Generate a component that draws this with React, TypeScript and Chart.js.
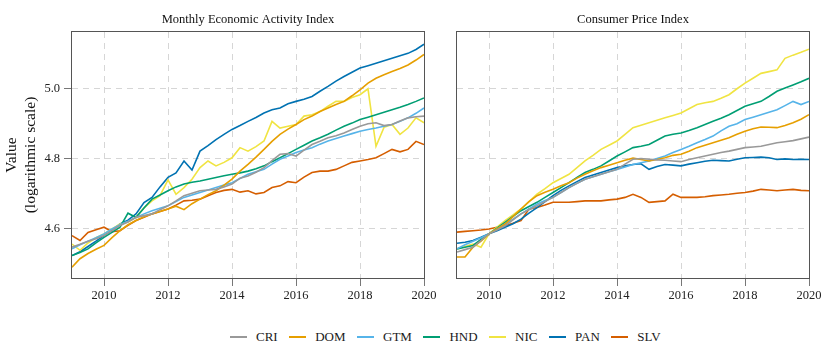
import React, { useEffect, useRef } from "react";
import { Chart, registerables } from "chart.js";
Chart.register(...registerables);

const FONT = "'Liberation Serif', 'Times New Roman', serif";

const dates = [
  2009, 2009.25, 2009.5, 2009.75, 2010, 2010.25, 2010.5, 2010.75,
  2011, 2011.25, 2011.5, 2011.75, 2012, 2012.25, 2012.5, 2012.75,
  2013, 2013.25, 2013.5, 2013.75, 2014, 2014.25, 2014.5, 2014.75,
  2015, 2015.25, 2015.5, 2015.75, 2016, 2016.25, 2016.5, 2016.75,
  2017, 2017.25, 2017.5, 2017.75, 2018, 2018.25, 2018.5, 2018.75,
  2019, 2019.25, 2019.5, 2019.75, 2020,
];

const seriesNames = ["CRI", "DOM", "GTM", "HND", "NIC", "PAN", "SLV"];
const seriesColors = ["#999999", "#E69F00", "#56B4E9", "#009E73", "#F0E442", "#0072B2", "#D55E00"];
const yTicks = [4.6, 4.8, 5.0];
const xTicks = [2010, 2012, 2014, 2016, 2018, 2020];
const panelTitles = ["Monthly Economic Activity Index", "Consumer Price Index"];

// Monthly Economic Activity Index
const imaeCRI = [4.548, 4.556, 4.565, 4.572, 4.581, 4.595, 4.610, 4.620, 4.633, 4.638, 4.643, 4.655, 4.666, 4.680, 4.695, 4.702, 4.709, 4.711, 4.713, 4.720, 4.728, 4.745, 4.751, 4.762, 4.775, 4.795, 4.813, 4.815, 4.808, 4.825, 4.841, 4.850, 4.860, 4.866, 4.874, 4.884, 4.893, 4.900, 4.903, 4.895, 4.898, 4.908, 4.917, 4.920, 4.922];
const imaeDOM = [4.491, 4.515, 4.530, 4.542, 4.553, 4.575, 4.595, 4.612, 4.624, 4.635, 4.643, 4.650, 4.657, 4.665, 4.655, 4.672, 4.685, 4.698, 4.709, 4.725, 4.742, 4.765, 4.784, 4.805, 4.827, 4.850, 4.870, 4.885, 4.898, 4.912, 4.922, 4.935, 4.945, 4.955, 4.964, 4.980, 4.997, 5.016, 5.030, 5.040, 5.049, 5.058, 5.068, 5.082, 5.098];
const imaeGTM = [4.543, 4.555, 4.565, 4.575, 4.586, 4.600, 4.612, 4.622, 4.633, 4.643, 4.652, 4.659, 4.666, 4.678, 4.690, 4.697, 4.704, 4.711, 4.718, 4.725, 4.732, 4.744, 4.756, 4.763, 4.770, 4.785, 4.799, 4.808, 4.818, 4.825, 4.832, 4.842, 4.851, 4.858, 4.865, 4.872, 4.879, 4.884, 4.888, 4.893, 4.898, 4.907, 4.917, 4.930, 4.945];
const imaeHND = [4.524, 4.533, 4.543, 4.560, 4.576, 4.590, 4.605, 4.645, 4.633, 4.660, 4.685, 4.697, 4.709, 4.720, 4.728, 4.733, 4.737, 4.742, 4.747, 4.752, 4.756, 4.760, 4.765, 4.772, 4.780, 4.792, 4.803, 4.815, 4.827, 4.839, 4.851, 4.860, 4.870, 4.882, 4.893, 4.902, 4.912, 4.919, 4.926, 4.933, 4.940, 4.947, 4.955, 4.964, 4.974];
const imaeNIC = [4.557, 4.539, 4.560, 4.575, 4.586, 4.600, 4.614, 4.620, 4.633, 4.660, 4.680, 4.695, 4.740, 4.699, 4.718, 4.742, 4.775, 4.794, 4.780, 4.790, 4.803, 4.832, 4.822, 4.835, 4.851, 4.907, 4.888, 4.893, 4.898, 4.922, 4.926, 4.935, 4.950, 4.964, 4.964, 4.975, 4.983, 5.000, 4.836, 4.890, 4.898, 4.870, 4.888, 4.917, 4.903];
const imaePAN = [4.524, 4.535, 4.550, 4.565, 4.581, 4.595, 4.614, 4.625, 4.643, 4.675, 4.690, 4.720, 4.747, 4.760, 4.794, 4.768, 4.822, 4.838, 4.855, 4.870, 4.884, 4.895, 4.907, 4.918, 4.931, 4.940, 4.945, 4.957, 4.964, 4.970, 4.978, 4.993, 5.007, 5.022, 5.035, 5.047, 5.059, 5.066, 5.073, 5.080, 5.087, 5.094, 5.101, 5.112, 5.127];
const imaeSLV = [4.581, 4.567, 4.590, 4.598, 4.605, 4.592, 4.595, 4.610, 4.624, 4.633, 4.643, 4.650, 4.657, 4.668, 4.680, 4.682, 4.685, 4.695, 4.704, 4.710, 4.713, 4.705, 4.709, 4.700, 4.704, 4.718, 4.723, 4.735, 4.732, 4.748, 4.761, 4.765, 4.765, 4.770, 4.780, 4.790, 4.794, 4.798, 4.803, 4.815, 4.827, 4.820, 4.827, 4.850, 4.841];

// Consumer Price Index
const cpiCRI = [4.534, 4.541, 4.548, 4.567, 4.586, 4.597, 4.609, 4.626, 4.643, 4.655, 4.666, 4.678, 4.690, 4.704, 4.718, 4.730, 4.742, 4.749, 4.756, 4.763, 4.770, 4.785, 4.799, 4.801, 4.799, 4.797, 4.796, 4.794, 4.792, 4.798, 4.803, 4.808, 4.813, 4.818, 4.822, 4.827, 4.832, 4.834, 4.836, 4.841, 4.846, 4.849, 4.852, 4.857, 4.862];
const cpiDOM = [4.520, 4.520, 4.548, 4.565, 4.586, 4.600, 4.614, 4.635, 4.657, 4.678, 4.695, 4.705, 4.713, 4.723, 4.732, 4.745, 4.756, 4.766, 4.775, 4.782, 4.789, 4.796, 4.802, 4.798, 4.794, 4.798, 4.803, 4.810, 4.813, 4.822, 4.832, 4.839, 4.846, 4.853, 4.860, 4.870, 4.879, 4.886, 4.891, 4.890, 4.889, 4.895, 4.903, 4.913, 4.926];
const cpiGTM = [4.543, 4.555, 4.565, 4.575, 4.586, 4.600, 4.614, 4.628, 4.643, 4.657, 4.671, 4.681, 4.690, 4.704, 4.718, 4.730, 4.742, 4.749, 4.756, 4.763, 4.770, 4.777, 4.784, 4.789, 4.794, 4.801, 4.808, 4.818, 4.827, 4.836, 4.846, 4.855, 4.865, 4.880, 4.893, 4.900, 4.912, 4.919, 4.926, 4.933, 4.940, 4.952, 4.964, 4.955, 4.964];
const cpiHND = [4.543, 4.548, 4.553, 4.570, 4.586, 4.602, 4.619, 4.636, 4.652, 4.664, 4.676, 4.690, 4.704, 4.718, 4.732, 4.747, 4.761, 4.770, 4.780, 4.794, 4.808, 4.820, 4.832, 4.836, 4.841, 4.853, 4.865, 4.870, 4.874, 4.881, 4.889, 4.898, 4.907, 4.916, 4.926, 4.938, 4.950, 4.957, 4.964, 4.978, 4.993, 5.002, 5.011, 5.020, 5.030];
const cpiNIC = [4.543, 4.550, 4.557, 4.548, 4.586, 4.605, 4.624, 4.640, 4.657, 4.678, 4.699, 4.715, 4.732, 4.744, 4.756, 4.775, 4.794, 4.810, 4.827, 4.839, 4.851, 4.870, 4.889, 4.896, 4.903, 4.910, 4.917, 4.924, 4.931, 4.943, 4.955, 4.960, 4.964, 4.973, 4.983, 5.000, 5.016, 5.030, 5.044, 5.049, 5.054, 5.087, 5.096, 5.104, 5.113];
const cpiPAN = [4.559, 4.562, 4.567, 4.576, 4.586, 4.595, 4.605, 4.615, 4.628, 4.645, 4.661, 4.678, 4.695, 4.710, 4.723, 4.735, 4.747, 4.754, 4.761, 4.768, 4.775, 4.780, 4.784, 4.786, 4.770, 4.778, 4.784, 4.782, 4.780, 4.785, 4.789, 4.793, 4.796, 4.795, 4.794, 4.799, 4.803, 4.804, 4.805, 4.803, 4.798, 4.800, 4.798, 4.799, 4.798];
const cpiSLV = [4.591, 4.593, 4.595, 4.597, 4.600, 4.605, 4.609, 4.616, 4.624, 4.657, 4.661, 4.668, 4.676, 4.676, 4.676, 4.678, 4.680, 4.680, 4.680, 4.683, 4.685, 4.690, 4.699, 4.690, 4.676, 4.678, 4.680, 4.699, 4.690, 4.690, 4.690, 4.692, 4.695, 4.697, 4.699, 4.702, 4.704, 4.708, 4.713, 4.711, 4.709, 4.711, 4.713, 4.710, 4.709];

const imaeSeries = [imaeCRI, imaeDOM, imaeGTM, imaeHND, imaeNIC, imaePAN, imaeSLV];
const cpiSeries = [cpiCRI, cpiDOM, cpiGTM, cpiHND, cpiNIC, cpiPAN, cpiSLV];

const framePlugin = {
  id: "frame",
  afterDatasetsDraw(chart: any) {
    const { ctx, chartArea } = chart;
    const { left, top, right, bottom } = chartArea;
    ctx.save();
    ctx.strokeStyle = "#555555";
    ctx.lineWidth = 1;
    ctx.strokeRect(Math.round(left) - 0.5, Math.round(top) - 0.5, Math.round(right) - Math.round(left) + 1, Math.round(bottom) - Math.round(top) + 1);
    ctx.restore();
  },
};

type PanelProps = {
  left: number;
  width: number;
  height: number;
  title: string;
  values: number[][];
  showY: boolean;
  padRight: number;
};

function Panel({ left, width, height, title, values, showY, padRight }: PanelProps) {
  const ref = useRef<HTMLCanvasElement | null>(null);
  useEffect(() => {
    if (!ref.current) return;
    const datasets = seriesNames.map((name, i) => ({
      label: name,
      data: dates.map((d, j) => ({ x: d, y: values[i][j] })),
      borderColor: seriesColors[i],
      backgroundColor: seriesColors[i],
      borderWidth: 1.6,
      pointRadius: 0,
      tension: 0,
      fill: false,
    }));
    const chart = new Chart(ref.current, {
      type: "line",
      data: { datasets },
      plugins: [framePlugin],
      options: {
        animation: false,
        responsive: false,
        maintainAspectRatio: false,
        devicePixelRatio: 1,
        layout: { padding: { left: 0, right: padRight, top: 0, bottom: 0 } },
        plugins: {
          legend: { display: false },
          tooltip: { enabled: false },
          title: {
            display: true,
            text: title,
            fullSize: false,
            color: "#111111",
            font: { family: FONT, size: 12.5, weight: "normal" },
            padding: { top: 12, bottom: 5 },
          },
        },
        scales: {
          x: {
            type: "linear",
            min: 2009,
            max: 2020,
            afterBuildTicks: (s: any) => {
              s.ticks = xTicks.map((v) => ({ value: v }));
            },
            afterFit: (s: any) => {
              s.height = 32;
            },
            ticks: {
              color: "#222222",
              font: { family: FONT, size: 12.5 },
              padding: 2,
              maxRotation: 0,
              autoSkip: false,
              callback: (v: any) => String(v),
            },
            grid: {
              color: "#d6d6d6",
              lineWidth: 1,
              drawTicks: true,
              tickLength: 8,
              tickColor: "#777777",
            },
            border: { display: false, dash: [6, 5] },
          },
          y: {
            type: "linear",
            min: 4.46,
            max: 5.162,
            afterBuildTicks: (s: any) => {
              s.ticks = yTicks.map((v) => ({ value: v }));
            },
            afterFit: (s: any) => {
              s.width = showY ? 72 : 17;
            },
            ticks: {
              display: showY,
              color: "#222222",
              font: { family: FONT, size: 12.5 },
              padding: 4,
              callback: (v: any) => Number(v).toFixed(1),
            },
            grid: {
              color: "#d6d6d6",
              lineWidth: 1,
              drawTicks: showY,
              tickLength: showY ? 8 : 0,
              tickColor: "#777777",
            },
            border: { display: false, dash: [6, 5] },
            title: showY
              ? {
                  display: true,
                  text: ["Value", "(logarithmic scale)"],
                  color: "#111111",
                  font: { family: FONT, size: 15.5, lineHeight: 1.2 },
                  padding: { top: 3, bottom: 0 },
                }
              : { display: false },
          },
        },
      } as any,
    });
    return () => chart.destroy();
  }, []);
  return (
    <canvas
      ref={ref}
      width={width}
      height={height}
      style={{ position: "absolute", left, top: 0, width, height, display: "block" }}
    />
  );
}

export default function App() {
  return (
    <div style={{ position: "absolute", left: 0, top: 0, width: 831, height: 362, background: "#ffffff", overflow: "hidden" }}>
      <Panel left={0} width={440} height={310} title={panelTitles[0]} values={imaeSeries} showY={true} padRight={16} />
      <Panel left={440} width={391} height={310} title={panelTitles[1]} values={cpiSeries} showY={false} padRight={22} />
      <div
        style={{
          position: "absolute",
          left: 230,
          top: 328,
          display: "flex",
          alignItems: "center",
          fontFamily: FONT,
          fontSize: 13,
          lineHeight: "17px",
          color: "#1a1a1a",
          whiteSpace: "nowrap",
        }}
      >
        {seriesNames.map((name, i) => (
          <div key={name} style={{ display: "flex", alignItems: "center", marginRight: 11.5 }}>
            <span style={{ display: "inline-block", width: 17, height: 2, background: seriesColors[i], marginRight: 9 }} />
            <span>{name}</span>
          </div>
        ))}
      </div>
    </div>
  );
}
